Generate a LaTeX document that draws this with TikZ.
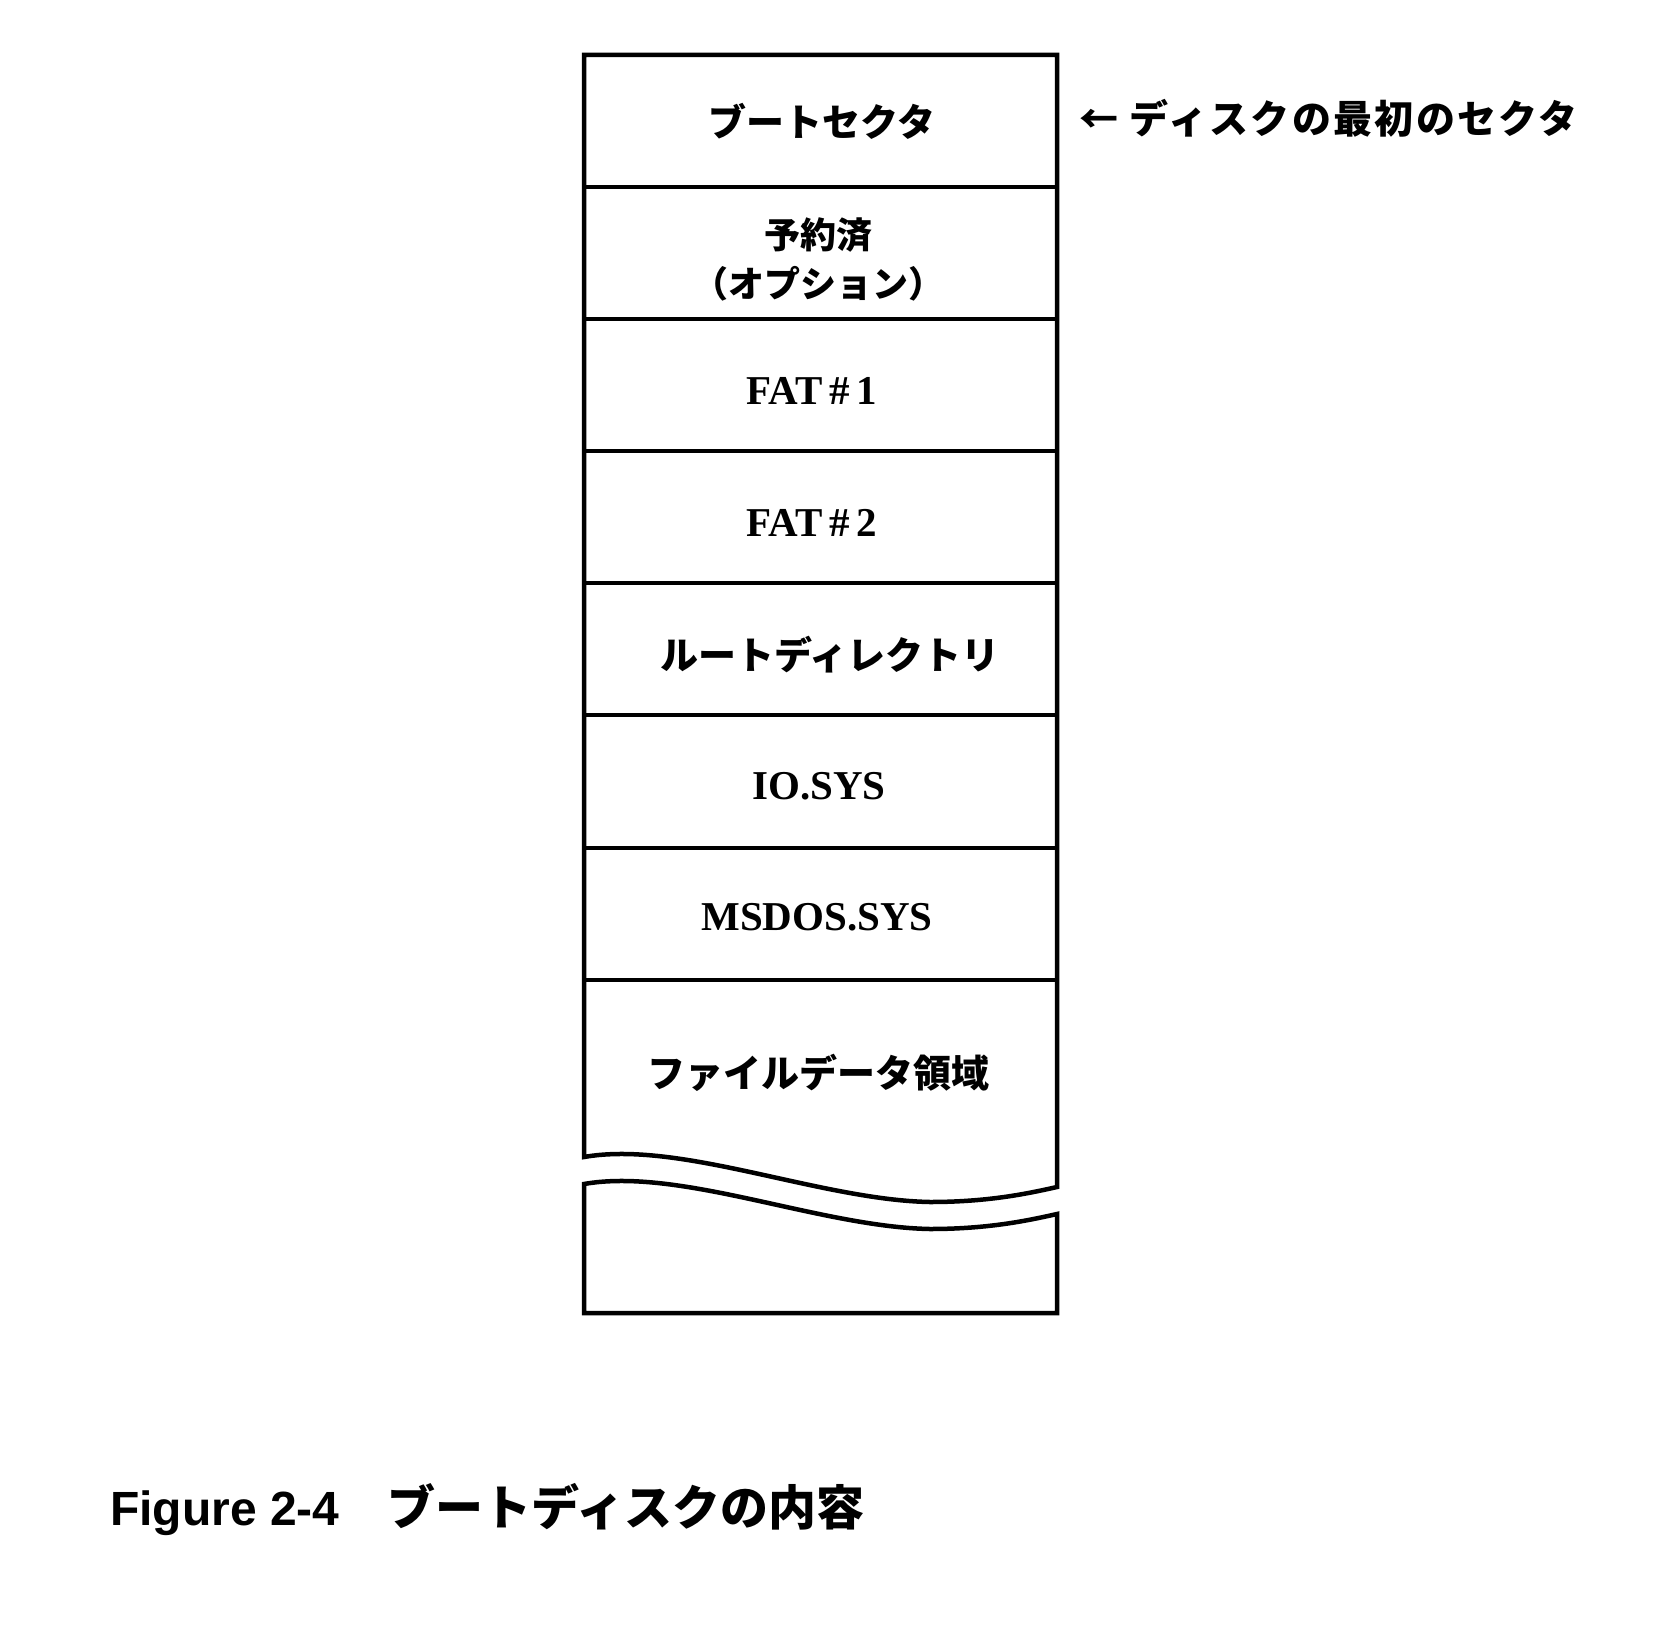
\documentclass[tikz,border=0pt]{standalone}
\usepackage{fontspec}
\setmainfont{Liberation Serif}
\setsansfont{Liberation Sans}
\newfontfamily\cjk{Noto Sans CJK JP}
\newfontfamily\cjkwide{Noto Sans CJK JP}[LetterSpace=6]
\tikzset{
  jlabel/.style={font=\cjk\bfseries\fontsize{38}{46}\selectfont, inner sep=0pt},
  elabel/.style={font=\bfseries\fontsize{41}{48}\selectfont, inner sep=0pt},
  frame/.style={line width=4.5pt, line join=miter},
  rowline/.style={line width=4pt},
}
\begin{document}
\begin{tikzpicture}[x=1pt,y=-1pt]
  \useasboundingbox (0,0) rectangle (1678,1635);
  % upper part of the disk
  \draw[frame] (584,1157) -- (584,55) -- (1057,55) -- (1057,1187)
    .. controls (1030,1193) and (990,1202) .. (930,1202)
    .. controls (820,1200) and (680,1140) .. cycle;
  % lower part of the disk
  \draw[frame] (584,1184) .. controls (680,1167) and (820,1227) .. (930,1229)
    .. controls (990,1229) and (1030,1220) .. (1057,1214)
    -- (1057,1313) -- (584,1313) -- cycle;
  \foreach \y in {187,319,451,583,715,848,980}
    \draw[rowline] (584,\y) -- (1057,\y);
  \draw
    (822,121) node[jlabel] (boot) {ブートセクタ}
    (818,259) node[jlabel, font=\cjk\bfseries\fontsize{36}{49}\selectfont, align=center] (rsvd) {予約済\\（オプション）}
    (812,391) node[elabel] (fat1) {FAT\,\#\,1}
    (812,523) node[elabel] (fat2) {FAT\,\#\,2}
    (830,655) node[jlabel] (root) {ルートディレクトリ}
    (819,786) node[elabel] (iosys) {IO.SYS}
    (817,917) node[elabel] (msdos) {MSDOS.SYS}
    (818,1073) node[jlabel] (data) {ファイルデータ領域};
  \node[anchor=west, inner sep=0pt, font=\cjkwide\bfseries\fontsize{39}{46}\selectfont] (first) at (1079,118) {← ディスクの最初のセクタ};
  \node[anchor=base west, inner sep=0pt, font=\sffamily\bfseries\fontsize{48}{56}\selectfont] (caption) at (110,1525) {Figure 2-4\quad{\cjk\bfseries ブートディスクの内容}};
\end{tikzpicture}
\end{document}
